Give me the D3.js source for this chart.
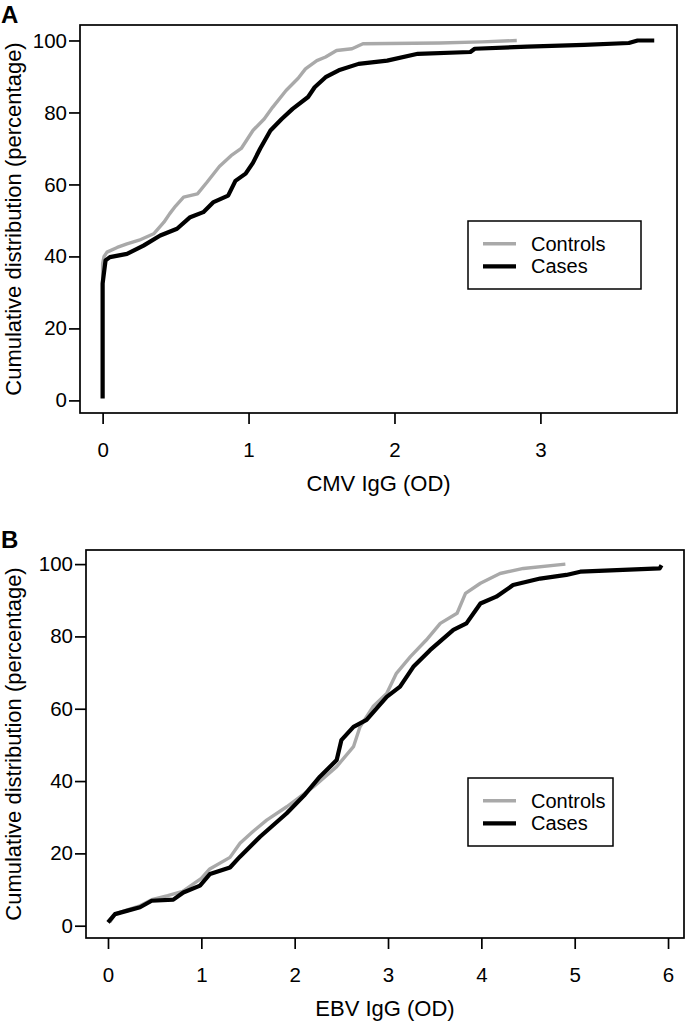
<!DOCTYPE html>
<html>
<head>
<meta charset="utf-8">
<script src="https://cdn.jsdelivr.net/npm/d3@7"></script>
<style>
  body { margin: 0; background: #fff; }
  svg { display: block; font-family: "Liberation Sans", Arial, sans-serif; }
</style>
</head>
<body>
<svg id="chart" width="686" height="1024"></svg>
<script>
// ---- data: [OD value, cumulative %] ----
var cmvControls = [[0,0.8],[0,20],[0,38],[0.01,40],[0.03,41.2],[0.1,42.5],[0.167,43.5],[0.25,44.5],[0.35,46.3],[0.42,49.5],[0.46,51.9],[0.5,54],[0.555,56.5],[0.65,57.4],[0.715,60.6],[0.8,65],[0.88,68],[0.95,70],[1.03,75],[1.107,78.2],[1.166,81.5],[1.257,86.1],[1.34,89.5],[1.39,92.1],[1.468,94.4],[1.528,95.4],[1.603,97.2],[1.709,97.7],[1.784,99.1],[2.31,99.3],[2.6,99.6],[2.838,100]];
var cmvCases = [[0,0.5],[0,20],[0,32.5],[0.02,38.9],[0.05,39.8],[0.167,40.7],[0.28,43],[0.395,45.8],[0.51,47.7],[0.6,50.9],[0.69,52.3],[0.76,55.1],[0.86,56.9],[0.91,61],[0.98,63],[1.03,66],[1.08,70],[1.15,75],[1.227,78.2],[1.302,81],[1.408,84.3],[1.453,87],[1.528,89.8],[1.618,91.7],[1.754,93.5],[1.95,94.4],[2.16,96.3],[2.52,96.8],[2.55,97.7],[2.91,98.3],[3.3,98.8],[3.606,99.3],[3.666,100],[3.78,100]];
var ebvControls = [[0.02,1],[0.075,3.2],[0.2,4.3],[0.343,5.5],[0.468,7.2],[0.64,8.3],[0.8,9.5],[1.0,13.1],[1.09,15.7],[1.307,18.9],[1.414,22.8],[1.55,26],[1.7,29.2],[1.915,32.9],[2.05,35.5],[2.2,38.4],[2.45,44],[2.63,49.5],[2.7,55],[2.84,60.6],[2.986,64.2],[3.09,69.8],[3.24,74.4],[3.41,79],[3.56,83.6],[3.74,86.4],[3.83,91.9],[3.99,94.7],[4.2,97.4],[4.45,98.8],[4.9,100]];
var ebvCases = [[0,0.9],[0.075,3.2],[0.2,4.1],[0.343,5.1],[0.468,6.9],[0.7,7.2],[0.807,9.2],[0.986,11.1],[1.093,14.3],[1.307,16.1],[1.414,19.1],[1.629,24.6],[1.915,31.1],[2.1,36],[2.27,41.2],[2.45,45.8],[2.5,51.3],[2.63,55],[2.77,56.9],[2.986,63.3],[3.129,66.1],[3.271,71.6],[3.45,76.2],[3.7,81.8],[3.84,83.6],[3.99,89.1],[4.16,91],[4.34,94.2],[4.63,96],[4.91,97],[5.06,97.9],[5.91,98.8],[5.93,99.7]];

var cmvTicks = [0, 1, 2, 3];
var ebvTicks = [0, 1, 2, 3, 4, 5, 6];
var yTicks = [0, 20, 40, 60, 80, 100];
var seriesNames = ["Controls", "Cases"];

var svg = d3.select("#chart");

function drawPanel(p) {
  var g = svg.append("g");
  var x = d3.scaleLinear().domain(p.xDomain).range([p.left, p.right]);
  var y = d3.scaleLinear().domain(p.yDomain).range([p.bottom, p.top]);

  // panel letter
  g.append("text").attr("x", 1).attr("y", p.top - 2)
    .style("font-size", "24px").style("font-weight", "bold").text(p.letter);

  // box
  g.append("rect").attr("x", p.left).attr("y", p.top)
    .attr("width", p.right - p.left).attr("height", p.bottom - p.top)
    .attr("fill", "none").attr("stroke", "#000").attr("stroke-width", 1.7);

  var xa = g.append("g").attr("transform", "translate(0," + p.bottom + ")")
    .call(d3.axisBottom(x).tickValues(p.xTicks).tickSize(11).tickPadding(18).tickFormat(d3.format("d")));
  var ya = g.append("g").attr("transform", "translate(" + p.left + ",0)")
    .call(d3.axisLeft(y).tickValues(yTicks).tickSize(11).tickPadding(2).tickFormat(d3.format("d")));
  [xa, ya].forEach(function(a) {
    a.select(".domain").remove();
    a.selectAll("line").attr("stroke", "#000").attr("stroke-width", 1.7);
    a.selectAll("text").attr("fill", "#000")
      .style("font-size", "20.5px").style("font-family", "'Liberation Sans', Arial, sans-serif");
  });

  // axis titles
  g.append("text").attr("x", (p.left + p.right) / 2).attr("y", p.bottom + 78)
    .attr("text-anchor", "middle").style("font-size", "22px").text(p.xTitle);
  g.append("text")
    .attr("transform", "translate(21," + ((p.top + p.bottom) / 2) + ") rotate(-90)")
    .attr("text-anchor", "middle").style("font-size", "22px")
    .text("Cumulative distribution (percentage)");

  var line = d3.line().x(function(d){ return x(d[0]); }).y(function(d){ return y(d[1]); });

  g.append("path").datum(p.controls).attr("d", line)
    .attr("fill", "none").attr("stroke", "#a9a9a9").attr("stroke-width", 3.4)
    .attr("stroke-linejoin", "round");
  g.append("path").datum(p.cases).attr("d", line)
    .attr("fill", "none").attr("stroke", "#000").attr("stroke-width", 4.2)
    .attr("stroke-linejoin", "round");

  // legend
  var lg = g.append("g");
  lg.append("rect").attr("x", p.legend.x).attr("y", p.legend.y)
    .attr("width", p.legend.w).attr("height", 68)
    .attr("fill", "#fff").attr("stroke", "#000").attr("stroke-width", 1.5);
  seriesNames.forEach(function(name, i) {
    var ly = p.legend.y + 22.7 + i * 22.7;
    lg.append("line").attr("x1", p.legend.x + 15).attr("x2", p.legend.x + 48)
      .attr("y1", ly).attr("y2", ly)
      .attr("stroke", i === 0 ? "#a9a9a9" : "#000").attr("stroke-width", i === 0 ? 3.4 : 4.2);
    lg.append("text").attr("x", p.legend.x + 63).attr("y", ly + 7)
      .style("font-size", "20px").text(name);
  });
}

drawPanel({
  letter: "A", left: 80, right: 677, top: 25, bottom: 413,
  xDomain: [-0.155, 3.936], yDomain: [-3.5, 104.3],
  xTicks: cmvTicks, xTitle: "CMV IgG (OD)",
  controls: cmvControls, cases: cmvCases,
  legend: { x: 468, y: 221, w: 173 }
});

drawPanel({
  letter: "B", left: 86, right: 684, top: 550, bottom: 938,
  xDomain: [-0.2357, 6.171], yDomain: [-3.4, 103.9],
  xTicks: ebvTicks, xTitle: "EBV IgG (OD)",
  controls: ebvControls, cases: ebvCases,
  legend: { x: 468, y: 778, w: 145 }
});
</script>
</body>
</html>
